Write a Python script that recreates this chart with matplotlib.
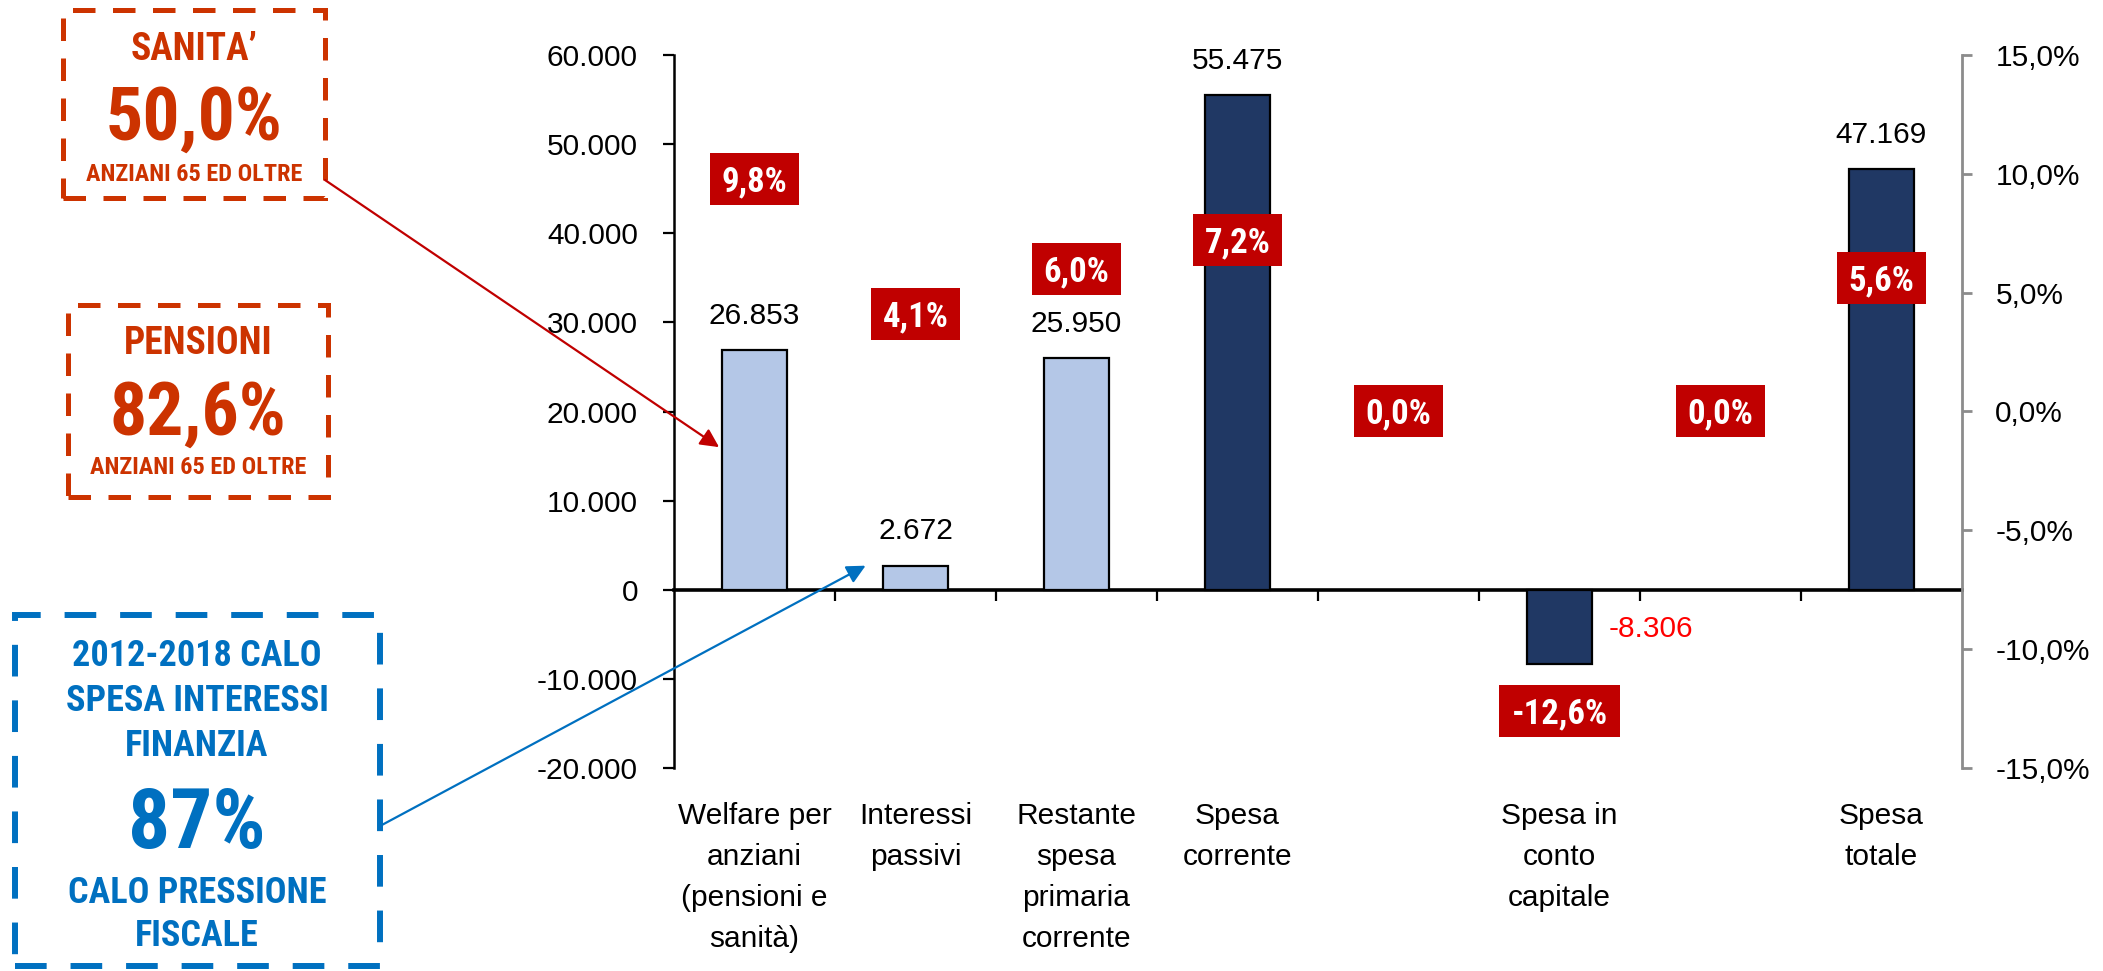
import numpy as np
import matplotlib
matplotlib.use("Agg")
import matplotlib.pyplot as plt
from matplotlib.patches import Rectangle, ConnectionPatch
from matplotlib import transforms, font_manager

# ---------------- data ----------------
categories = ["Welfare per\nanziani\n(pensioni e\nsanità)", "Interessi\npassivi",
              "Restante\nspesa\nprimaria\ncorrente", "Spesa\ncorrente", "",
              "Spesa in\nconto\ncapitale", "", "Spesa\ntotale"]
values = [26853, 2672, 25950, 55475, None, -8306, None, 47169]
value_labels = ["26.853", "2.672", "25.950", "55.475", "", "-8.306", "", "47.169"]
pct = [9.8, 4.1, 6.0, 7.2, 0.0, -12.6, 0.0, 5.6]
pct_labels = ["9,8%", "4,1%", "6,0%", "7,2%", "0,0%", "-12,6%", "0,0%", "5,6%"]
bar_kind = ["light", "light", "light", "dark", "", "dark", "", "dark"]
left_ticks = [-20000, -10000, 0, 10000, 20000, 30000, 40000, 50000, 60000]
left_tick_labels = ["-20.000", "-10.000", "0", "10.000", "20.000", "30.000",
                    "40.000", "50.000", "60.000"]
right_ticks = [-15, -10, -5, 0, 5, 10, 15]
right_tick_labels = ["-15,0%", "-10,0%", "-5,0%", "0,0%", "5,0%", "10,0%", "15,0%"]

box_sanita = ["SANITA’", "50,0%", "ANZIANI 65 ED OLTRE"]
box_pensioni = ["PENSIONI", "82,6%", "ANZIANI 65 ED OLTRE"]
box_interessi = ["2012-2018 CALO", "SPESA INTERESSI", "FINANZIA", "87%",
                 "CALO PRESSIONE", "FISCALE"]

# ---------------- style ----------------
plt.rcParams["font.family"] = ["Liberation Sans", "DejaVu Sans"]

available = {f.name for f in font_manager.fontManager.ttflist}
narrow_choice = None
for cand in ["Liberation Sans Narrow", "Arial Narrow", "Roboto Condensed",
             "Open Sans Condensed"]:
    if cand in available:
        narrow_choice = cand
        break
if narrow_choice:
    NARROW = [narrow_choice, "Liberation Sans", "DejaVu Sans"]
    NSCALE = 1.0
else:
    NARROW = ["Liberation Sans", "DejaVu Sans"]
    NSCALE = 0.86

LIGHT = "#B4C7E7"
DARK = "#203864"
RED_BOX = "#C00000"
ORANGE = "#CC3300"
BLUE = "#0070C0"
FS = 21.5

W, H = 2103, 971
fig = plt.figure(figsize=(W / 100, H / 100), dpi=100)


def fx(x):
    return x / W


def fy(y):
    return 1 - y / H


ax = fig.add_axes([fx(674), fy(768), fx(1962) - fx(674), fy(55) - fy(768)])
ax2 = ax.twinx()

colors = {"light": LIGHT, "dark": DARK}
for i, v in enumerate(values):
    if v is None:
        continue
    ax.bar(i, v, width=0.4, color=colors[bar_kind[i]], edgecolor="black",
           linewidth=1.6, zorder=3)
    if v >= 0:
        ax.annotate(value_labels[i], (i, v), xytext=(0, 25), textcoords="offset points",
                    ha="center", va="center", fontsize=FS, color="black")
    else:
        ax.annotate(value_labels[i], (i + 0.2, v), xytext=(12, 25),
                    textcoords="offset points", ha="left", va="center",
                    fontsize=FS, color="#FF0000")

ax.set_xlim(-0.5, len(categories) - 0.5)
ax.set_ylim(-20000, 60000)
ax.set_yticks(left_ticks)
ax.set_yticklabels(left_tick_labels, fontsize=FS)
ax.tick_params(axis="y", direction="out", length=8, width=1.6, pad=18, colors="black")
ax.set_xticks(np.arange(0.5, len(categories) - 1, 1.0))
ax.set_xticklabels([])
ax.tick_params(axis="x", direction="out", length=8, width=1.6)
ax.spines["bottom"].set_position(("data", 0))
ax.spines["bottom"].set_linewidth(2.6)
ax.spines["left"].set_linewidth(1.8)
ax.spines["top"].set_visible(False)
ax.spines["right"].set_visible(False)

blend = transforms.blended_transform_factory(ax.transData, ax.transAxes)
for i, c in enumerate(categories):
    if c:
        ax.text(i, -0.047, c, transform=blend, ha="center", va="top",
                fontsize=FS, linespacing=1.6, multialignment="center")

ax2.set_ylim(-15, 15)
ax2.set_yticks(right_ticks)
ax2.set_yticklabels(right_tick_labels, fontsize=FS)
ax2.tick_params(axis="y", direction="out", length=7, width=2, pad=17,
                color="#8C8C8C", labelcolor="black")
for s in ["left", "top", "bottom"]:
    ax2.spines[s].set_visible(False)
ax2.spines["right"].set_color("#8C8C8C")
ax2.spines["right"].set_linewidth(2)

# red percentage labels: text first, then a box sized from the rendered text
PCT_FS = 25 if narrow_choice else 23
cap_px = 0.711 * PCT_FS * 100 / 72
pct_texts = []
for i, (p, lab) in enumerate(zip(pct, pct_labels)):
    t = ax2.annotate(lab, (i, p), xytext=(0, -cap_px / 2 * 72 / 100),
                     textcoords="offset points", ha="center", va="baseline",
                     color="white", fontsize=PCT_FS, fontweight="bold",
                     family=NARROW, zorder=6)
    pct_texts.append(t)

fig.canvas.draw()
renderer = fig.canvas.get_renderer()
inv = ax2.transData.inverted()
for i, (p, t) in enumerate(zip(pct, pct_texts)):
    bb = t.get_window_extent(renderer)
    cx, cy = ax2.transData.transform((i, p))
    half_w = bb.width / 2 + 12
    half_h = 26
    (x0, y0) = inv.transform((cx - half_w, cy - half_h))
    (x1, y1) = inv.transform((cx + half_w, cy + half_h))
    ax2.add_patch(Rectangle((x0, y0), x1 - x0, y1 - y0, facecolor=RED_BOX,
                            edgecolor="none", zorder=5))


# ---------------- annotation boxes ----------------
def dashed_box(x0, y0, x1, y1, color, lw, dashes):
    r = Rectangle((fx(x0), fy(y1)), fx(x1) - fx(x0), fy(y0) - fy(y1),
                  transform=fig.transFigure, fill=False, edgecolor=color,
                  linewidth=lw, linestyle=(0, dashes))
    fig.add_artist(r)


def ftext(xc, yc, s, size, color):
    size = size * NSCALE
    base = yc + 0.36 * size * 100 / 72
    fig.text(fx(xc), fy(base), s, ha="center", va="baseline", fontsize=size,
             fontweight="bold", color=color, family=NARROW)


dashed_box(63, 10, 325, 198, ORANGE, 3.6, (4.5, 3.5))
ftext(194, 47, box_sanita[0], 27, ORANGE)
ftext(194, 113, box_sanita[1], 53, ORANGE)
ftext(194, 172, box_sanita[2], 17.5, ORANGE)

dashed_box(68, 305, 328, 497, ORANGE, 3.6, (4.5, 3.5))
ftext(198, 340, box_pensioni[0], 27, ORANGE)
ftext(198, 408, box_pensioni[1], 53, ORANGE)
ftext(198, 465, box_pensioni[2], 17.5, ORANGE)

dashed_box(15, 615, 380, 966, BLUE, 4.3, (5.3, 4.0))
for yc, s, size in zip([653, 698, 743, 818, 890, 933], box_interessi,
                       [26, 26, 26, 60, 26, 26]):
    ftext(197, yc, s, size, BLUE)

# arrows
arr1 = ConnectionPatch(xyA=(fx(325), fy(180)), coordsA=fig.transFigure,
                       xyB=(-0.22, 16000), coordsB=ax.transData,
                       arrowstyle="-|>", color="#C00000", lw=1.6,
                       mutation_scale=28, shrinkA=0, shrinkB=0)
fig.add_artist(arr1)
arr2 = ConnectionPatch(xyA=(fx(380), fy(826)), coordsA=fig.transFigure,
                       xyB=(0.69, 2700), coordsB=ax.transData,
                       arrowstyle="-|>", color=BLUE, lw=1.6,
                       mutation_scale=28, shrinkA=0, shrinkB=0)
fig.add_artist(arr2)

fig.savefig("out.png", dpi=100)
